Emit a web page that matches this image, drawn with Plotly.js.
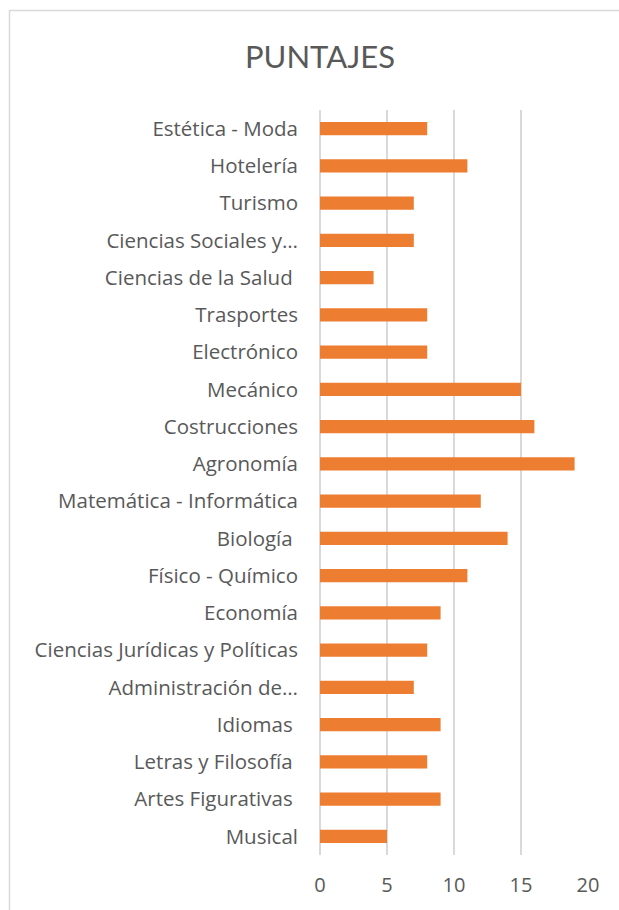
<!DOCTYPE html>
<html>
<head>
<meta charset="utf-8">
<script src="https://cdn.plot.ly/plotly-3.0.1.min.js"></script>
<style>html,body{margin:0;padding:0;background:#fff;}#chart{width:619px;height:910px;}</style>
</head>
<body>
<div id="chart"></div>
<script>
const categories = [
  "Musical", "Artes Figurativas\u00a0", "Letras y Filosofía\u00a0", "Idiomas\u00a0",
  "Administración de…", "Ciencias Jurídicas y Políticas", "Economía", "Físico - Químico",
  "Biología\u00a0", "Matemática - Informática", "Agronomía", "Costrucciones", "Mecánico",
  "Electrónico", "Trasportes", "Ciencias de la Salud\u00a0", "Ciencias Sociales y…",
  "Turismo", "Hotelería", "Estética - Moda"
];
const puntajes = [5, 9, 8, 9, 7, 8, 9, 11, 14, 12, 19, 16, 15, 8, 8, 4, 7, 7, 11, 8];
const xTicks = [0, 5, 10, 15, 20];
const chartTitle = "PUNTAJES";

const titleFont = "Lato, 'Open Sans', sans-serif";
const font = "'Open Sans', Lato, sans-serif";
const textColor = "#595959";
const L = 320, R = 31, T = 110, B = 55, W = 619, H = 910;
const pw = W - L - R, ph = H - T - B;
const px2x = p => (p - L) / pw;
const py2y = p => (H - B - p) / ph;

Plotly.newPlot("chart", [{
  type: "bar",
  orientation: "h",
  y: categories,
  x: puntajes,
  marker: {color: "#ED7D31"},
  width: 0.35,
  hoverinfo: "x+y"
}], {
  width: W, height: H,
  margin: {l: L, r: R, t: T, b: B, pad: 0},
  paper_bgcolor: "#fff",
  plot_bgcolor: "#fff",
  showlegend: false,
  title: {
    text: chartTitle,
    font: {family: titleFont, size: 31, color: textColor},
    x: 320 / W, xref: "container", xanchor: "center",
    y: 1 - 57 / H, yref: "container", yanchor: "middle"
  },
  xaxis: {
    range: [0, 20],
    tickvals: xTicks,
    ticktext: xTicks.map(String),
    showgrid: true,
    gridcolor: "#D9D9D9",
    gridwidth: 1.5,
    zeroline: true,
    zerolinecolor: "#D9D9D9",
    zerolinewidth: 1.5,
    showline: false,
    ticks: "",
    ticklabelstandoff: 16,
    tickfont: {family: font, size: 20, color: textColor}
  },
  yaxis: {
    type: "category",
    range: [-0.5, categories.length - 0.5],
    showgrid: false,
    zeroline: false,
    showline: false,
    ticks: "",
    ticklabelstandoff: 21,
    tickfont: {family: font, size: 20.5, color: textColor},
    automargin: false
  },
  shapes: [{
    type: "rect",
    xref: "paper", yref: "paper",
    x0: px2x(9.5), x1: px2x(640),
    y0: py2y(940), y1: py2y(10.5),
    line: {color: "#D9D9D9", width: 1.5},
    fillcolor: "rgba(0,0,0,0)",
    layer: "below"
  }]
}, {displayModeBar: false, staticPlot: true});
</script>
</body>
</html>
